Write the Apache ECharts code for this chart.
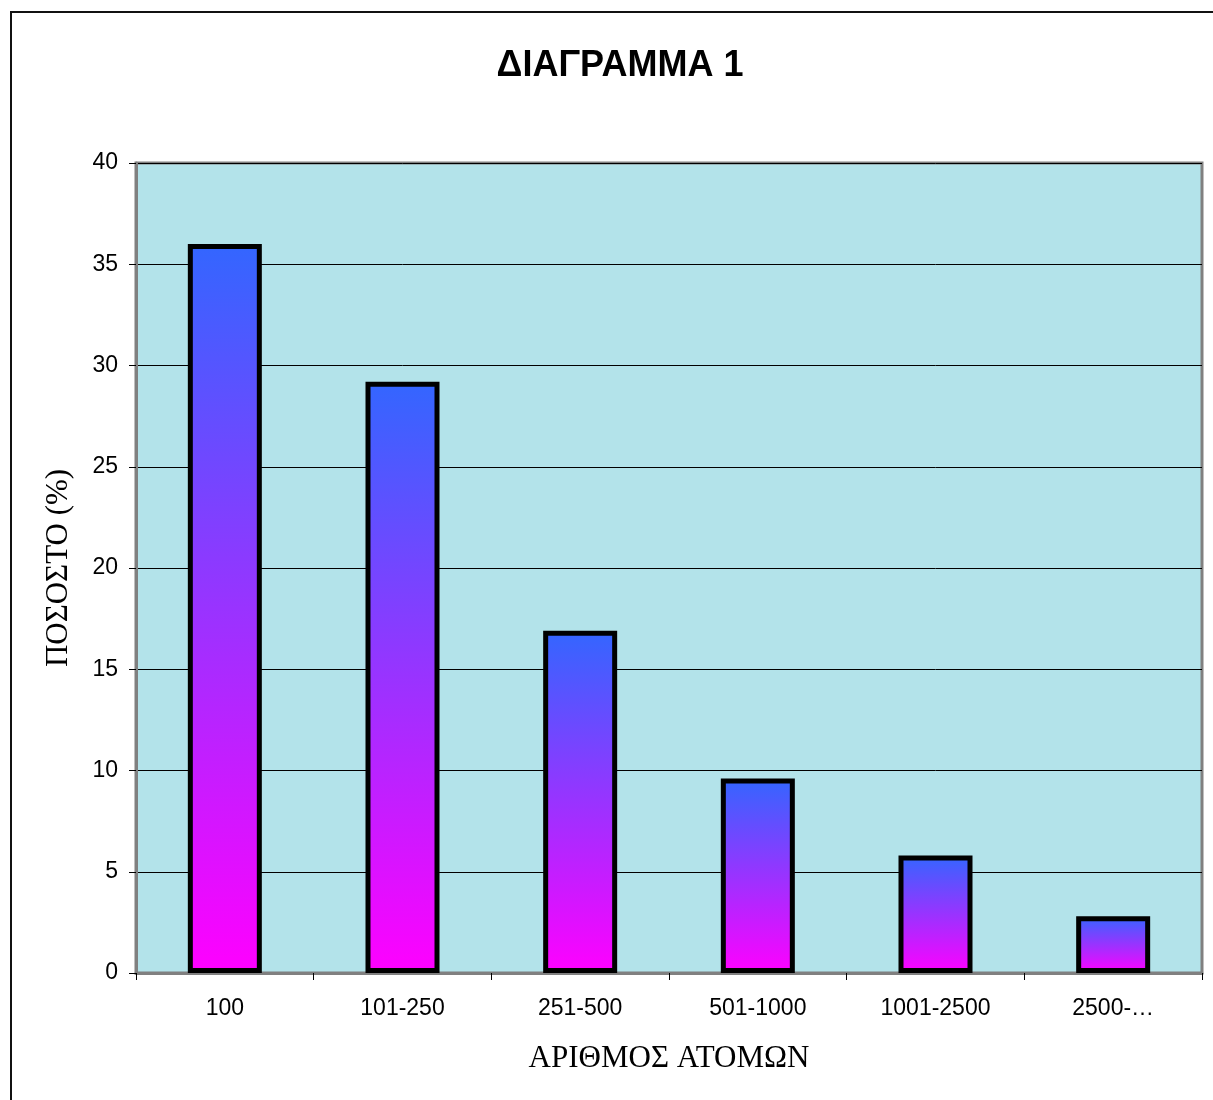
<!DOCTYPE html>
<html>
<head>
<meta charset="utf-8">
<script src="https://cdn.jsdelivr.net/npm/echarts@6/dist/echarts.min.js"></script>
<style>
html,body{margin:0;padding:0;background:#fff;}
#c{width:1213px;height:1100px;}
</style>
</head>
<body>
<div id="c"></div>
<script>
const titleText = 'ΔΙΑΓΡΑΜΜΑ 1';
const categories = ['100', '101-250', '251-500', '501-1000', '1001-2500', '2500-…'];
const values = [36.0, 29.2, 16.9, 9.6, 5.8, 2.8];
const yTicks = [0, 5, 10, 15, 20, 25, 30, 35, 40];
const yName = 'ΠΟΣΟΣΤΟ (%)';
const xName = 'ΑΡΙΘΜΟΣ ΑΤΟΜΩΝ';

const chart = echarts.init(document.getElementById('c'), null, {renderer: 'canvas'});
chart.setOption({
  backgroundColor: '#ffffff',
  animation: false,
  title: {
    text: titleText,
    left: 615, top: 43, textAlign: 'center',
    textStyle: {fontFamily: 'Liberation Sans, Arial', fontWeight: 'bold', fontSize: 36, color: '#000'}
  },
  graphic: [{
    type: 'rect', silent: true, z: -10,
    shape: {x: 11, y: 12, width: 1400, height: 1300},
    style: {fill: 'none', stroke: '#111', lineWidth: 2}
  }],
  grid: {
    left: 136, right: 11, top: 163, bottom: 127,
    show: true, backgroundColor: '#b3e3ea', borderColor: '#808080', borderWidth: 3
  },
  xAxis: {
    type: 'category', data: categories,
    name: xName, nameLocation: 'middle', nameGap: 70,
    nameTextStyle: {fontFamily: 'Liberation Serif, Times New Roman', fontSize: 31, color: '#000'},
    axisLine: {show: true, lineStyle: {color: '#808080', width: 3}},
    axisTick: {show: true, length: 7, lineStyle: {color: '#000', width: 1}},
    axisLabel: {fontFamily: 'Liberation Sans, Arial', fontSize: 23, color: '#000', margin: 24}
  },
  yAxis: {
    type: 'value', min: yTicks[0], max: yTicks[yTicks.length - 1], interval: 5,
    name: yName, nameLocation: 'middle', nameGap: 62, nameRotate: 90,
    nameTextStyle: {fontFamily: 'Liberation Serif, Times New Roman', fontSize: 31, color: '#000'},
    axisLine: {show: true, lineStyle: {color: '#808080', width: 3}},
    axisTick: {show: true, length: 7, lineStyle: {color: '#000', width: 1}},
    axisLabel: {fontFamily: 'Liberation Sans, Arial', fontSize: 23, color: '#000', margin: 18},
    splitLine: {show: true, lineStyle: {color: '#000', width: 1}}
  },
  series: [{
    type: 'bar', data: values, barWidth: 74,
    itemStyle: {
      color: new echarts.graphic.LinearGradient(0, 0, 0, 1, [
        {offset: 0, color: '#3366ff'},
        {offset: 1, color: '#ff00ff'}
      ]),
      borderColor: '#000', borderWidth: 5
    }
  }]
});
</script>
</body>
</html>
